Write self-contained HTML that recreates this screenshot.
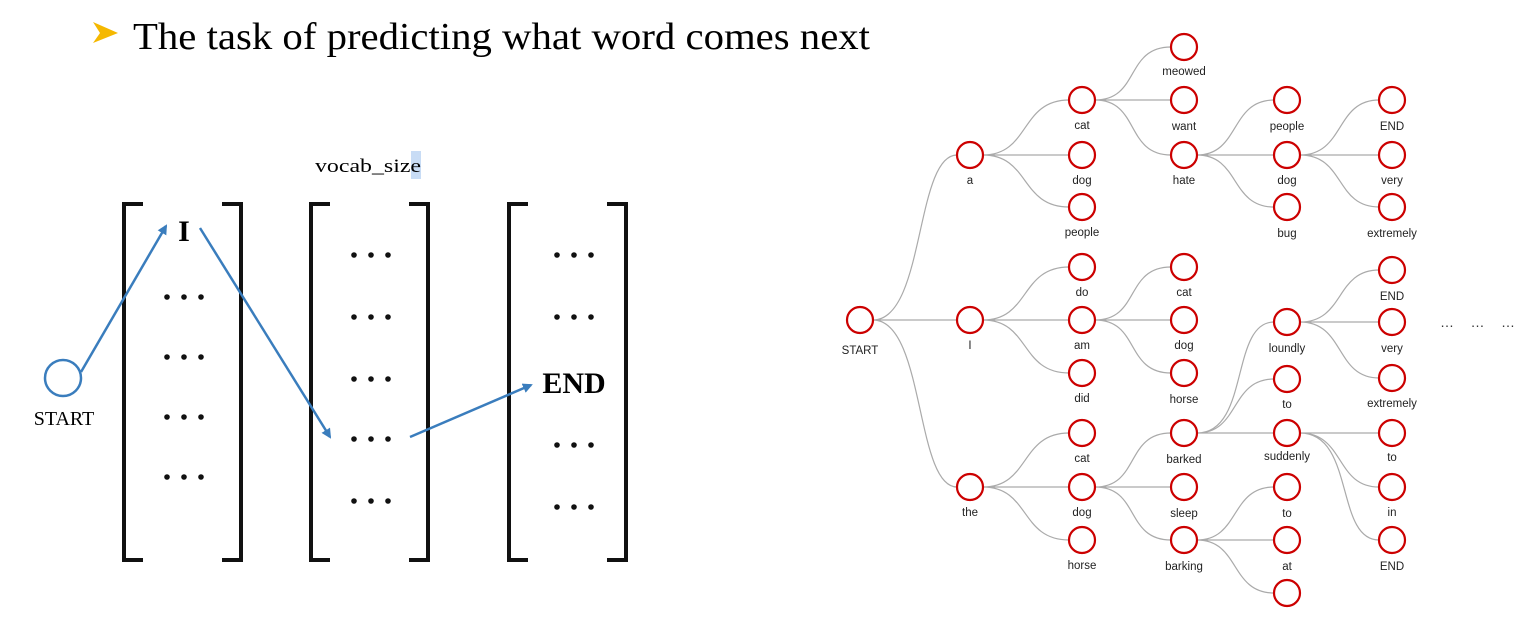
<!DOCTYPE html>
<html><head><style>
body{margin:0;background:#fff;width:1534px;height:636px;overflow:hidden}
svg{display:block}
.n{fill:#fff;stroke:#c00;stroke-width:2.2}
.e{fill:none;stroke:#aaa;stroke-width:1.2}
.l{font-family:"Liberation Sans",sans-serif;font-size:11.5px;text-anchor:middle;fill:#222}
</style></head><body>
<svg width="1534" height="636" viewBox="0 0 1534 636">
<defs>
<g id="dd" fill="#111"><circle cx="-17" cy="0" r="2.8"/><circle cx="0" cy="0" r="2.8"/><circle cx="17" cy="0" r="2.8"/></g>
<marker id="a" markerWidth="10" markerHeight="10" refX="8" refY="5" orient="auto" markerUnits="userSpaceOnUse"><path d="M0,0L10,5L0,10z" fill="#3a7dbd"/></marker>
</defs>
<polygon points="93,22 118,33 93,43 100,33" fill="#f5b800"/>
<text x="133" y="49" font-family="Liberation Serif,serif" font-size="38" textLength="737" lengthAdjust="spacingAndGlyphs">The task of predicting what word comes next</text>
<rect x="411" y="151" width="10" height="28" fill="#c8dcf5"/>
<text x="315" y="172" font-family="Liberation Serif,serif" font-size="19" textLength="106" lengthAdjust="spacingAndGlyphs">vocab_size</text>
<g fill="none" stroke="#111" stroke-width="4">
<path d="M143,204H124V560H143M222,204H241V560H222"/>
<path d="M330,204H311V560H330M409,204H428V560H409"/>
<path d="M528,204H509V560H528M607,204H626V560H607"/>
</g>
<use href="#dd" x="184" y="297"/><use href="#dd" x="184" y="357"/><use href="#dd" x="184" y="417"/><use href="#dd" x="184" y="477"/>
<use href="#dd" x="371" y="255"/><use href="#dd" x="371" y="317"/><use href="#dd" x="371" y="379"/><use href="#dd" x="371" y="439"/><use href="#dd" x="371" y="501"/>
<use href="#dd" x="574" y="255"/><use href="#dd" x="574" y="317"/><use href="#dd" x="574" y="445"/><use href="#dd" x="574" y="507"/>
<text x="184" y="241" font-family="Liberation Serif,serif" font-size="30" font-weight="bold" text-anchor="middle">I</text>
<text x="574" y="393" font-family="Liberation Serif,serif" font-size="30" font-weight="bold" text-anchor="middle">END</text>
<circle cx="63" cy="378" r="18" fill="none" stroke="#3a7dbd" stroke-width="2.5"/>
<text x="64" y="425" font-family="Liberation Serif,serif" font-size="20" text-anchor="middle">START</text>
<g stroke="#3a7dbd" stroke-width="2.5" marker-end="url(#a)">
<line x1="81" y1="372" x2="166" y2="226"/>
<line x1="200" y1="228" x2="330" y2="437"/>
<line x1="410" y1="437" x2="531" y2="385"/>
</g>
<g class="e">
<path d="M873,320C925,320 915,155 957,155M873,320H957M873,320C925,320 915,487 957,487"/>
<path d="M983,155C1030,155 1020,100 1069,100M983,155H1069M983,155C1030,155 1020,207 1069,207"/>
<path d="M983,320C1030,320 1020,267 1069,267M983,320H1069M983,320C1030,320 1020,373 1069,373"/>
<path d="M983,487C1030,487 1020,433 1069,433M983,487H1069M983,487C1030,487 1020,540 1069,540"/>
<path d="M1095,100C1140,100 1125,47 1171,47M1095,100H1171M1095,100C1140,100 1125,155 1171,155"/>
<path d="M1095,320C1140,320 1125,267 1171,267M1095,320H1171M1095,320C1140,320 1125,373 1171,373"/>
<path d="M1095,487C1140,487 1125,433 1171,433M1095,487H1171M1095,487C1140,487 1125,540 1171,540"/>
<path d="M1197,155C1240,155 1230,100 1274,100M1197,155H1274M1197,155C1240,155 1230,207 1274,207"/>
<path d="M1197,433C1250,433 1230,322 1274,322M1197,433C1240,433 1230,379 1274,379M1197,433H1274"/>
<path d="M1197,540C1240,540 1230,487 1274,487M1197,540C1240,540 1230,540 1274,540M1197,540C1240,540 1230,593 1274,593"/>
<path d="M1300,155C1345,155 1335,100 1379,100M1300,155H1379M1300,155C1345,155 1335,207 1379,207"/>
<path d="M1300,322C1345,322 1335,270 1379,270M1300,322H1379M1300,322C1345,322 1335,378 1379,378"/>
<path d="M1300,433H1379M1300,433C1345,433 1335,487 1379,487M1300,433C1355,433 1335,540 1379,540"/>
</g>
<g>
<circle class="n" cx="860" cy="320" r="13"/><text class="l" x="860" y="354">START</text>
<circle class="n" cx="970" cy="155" r="13"/><text class="l" x="970" y="184">a</text>
<circle class="n" cx="970" cy="320" r="13"/><text class="l" x="970" y="349">I</text>
<circle class="n" cx="970" cy="487" r="13"/><text class="l" x="970" y="516">the</text>
<circle class="n" cx="1082" cy="100" r="13"/><text class="l" x="1082" y="129">cat</text>
<circle class="n" cx="1082" cy="155" r="13"/><text class="l" x="1082" y="184">dog</text>
<circle class="n" cx="1082" cy="207" r="13"/><text class="l" x="1082" y="236">people</text>
<circle class="n" cx="1082" cy="267" r="13"/><text class="l" x="1082" y="296">do</text>
<circle class="n" cx="1082" cy="320" r="13"/><text class="l" x="1082" y="349">am</text>
<circle class="n" cx="1082" cy="373" r="13"/><text class="l" x="1082" y="402">did</text>
<circle class="n" cx="1082" cy="433" r="13"/><text class="l" x="1082" y="462">cat</text>
<circle class="n" cx="1082" cy="487" r="13"/><text class="l" x="1082" y="516">dog</text>
<circle class="n" cx="1082" cy="540" r="13"/><text class="l" x="1082" y="569">horse</text>
<circle class="n" cx="1184" cy="47" r="13"/><text class="l" x="1184" y="75">meowed</text>
<circle class="n" cx="1184" cy="100" r="13"/><text class="l" x="1184" y="130">want</text>
<circle class="n" cx="1184" cy="155" r="13"/><text class="l" x="1184" y="184">hate</text>
<circle class="n" cx="1184" cy="267" r="13"/><text class="l" x="1184" y="296">cat</text>
<circle class="n" cx="1184" cy="320" r="13"/><text class="l" x="1184" y="349">dog</text>
<circle class="n" cx="1184" cy="373" r="13"/><text class="l" x="1184" y="403">horse</text>
<circle class="n" cx="1184" cy="433" r="13"/><text class="l" x="1184" y="463">barked</text>
<circle class="n" cx="1184" cy="487" r="13"/><text class="l" x="1184" y="517">sleep</text>
<circle class="n" cx="1184" cy="540" r="13"/><text class="l" x="1184" y="570">barking</text>
<circle class="n" cx="1287" cy="100" r="13"/><text class="l" x="1287" y="130">people</text>
<circle class="n" cx="1287" cy="155" r="13"/><text class="l" x="1287" y="184">dog</text>
<circle class="n" cx="1287" cy="207" r="13"/><text class="l" x="1287" y="237">bug</text>
<circle class="n" cx="1287" cy="322" r="13"/><text class="l" x="1287" y="352">loundly</text>
<circle class="n" cx="1287" cy="379" r="13"/><text class="l" x="1287" y="408">to</text>
<circle class="n" cx="1287" cy="433" r="13"/><text class="l" x="1287" y="460">suddenly</text>
<circle class="n" cx="1287" cy="487" r="13"/><text class="l" x="1287" y="517">to</text>
<circle class="n" cx="1287" cy="540" r="13"/><text class="l" x="1287" y="570">at</text>
<circle class="n" cx="1287" cy="593" r="13"/>
<circle class="n" cx="1392" cy="100" r="13"/><text class="l" x="1392" y="130">END</text>
<circle class="n" cx="1392" cy="155" r="13"/><text class="l" x="1392" y="184">very</text>
<circle class="n" cx="1392" cy="207" r="13"/><text class="l" x="1392" y="237">extremely</text>
<circle class="n" cx="1392" cy="270" r="13"/><text class="l" x="1392" y="300">END</text>
<circle class="n" cx="1392" cy="322" r="13"/><text class="l" x="1392" y="352">very</text>
<circle class="n" cx="1392" cy="378" r="13"/><text class="l" x="1392" y="407">extremely</text>
<circle class="n" cx="1392" cy="433" r="13"/><text class="l" x="1392" y="461">to</text>
<circle class="n" cx="1392" cy="487" r="13"/><text class="l" x="1392" y="516">in</text>
<circle class="n" cx="1392" cy="540" r="13"/><text class="l" x="1392" y="570">END</text>
</g>
<text x="1440" y="327" font-family="Liberation Sans,sans-serif" font-size="14" fill="#333" textLength="75">… … …</text>
</svg>
</body></html>
